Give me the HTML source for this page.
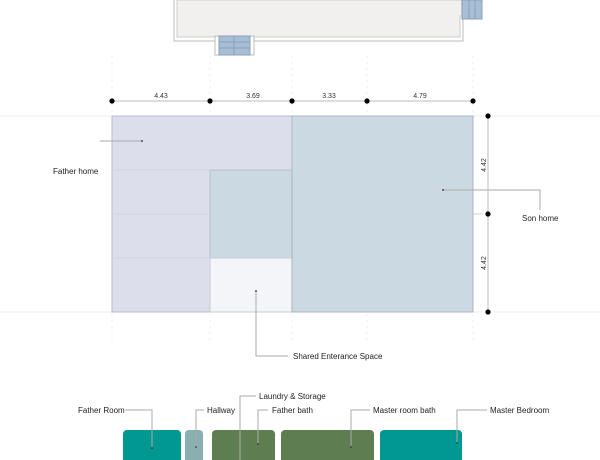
<!DOCTYPE html>
<html><head><style>body{margin:0;background:#fff}svg{display:block;font-family:"Liberation Sans",sans-serif}</style></head><body>
<svg width="600" height="460" viewBox="0 0 600 460" xmlns="http://www.w3.org/2000/svg">
<g stroke="#eee" stroke-width="1" fill="none">
<line x1="0" y1="116" x2="600" y2="116"/><line x1="0" y1="312" x2="600" y2="312"/>
<line x1="112" y1="56" x2="112" y2="340" stroke-dasharray="2 4"/>
<line x1="210" y1="56" x2="210" y2="340" stroke-dasharray="2 4"/>
<line x1="292" y1="56" x2="292" y2="340" stroke-dasharray="2 4"/>
<line x1="367" y1="56" x2="367" y2="340" stroke-dasharray="2 4"/>
<line x1="473" y1="56" x2="473" y2="340" stroke-dasharray="2 4"/>
</g>
<!-- top plan -->
<path d="M174 0 V41 H463 V19 H481 V0" fill="#fff" stroke="#bbb"/>
<path d="M177 0 V37 H460 V16 H478 V0 Z" fill="#f1f0ee" stroke="#ccc"/>
<rect x="462" y="0" width="20" height="19" fill="#a8bed6" stroke="#8a9fb8"/>
<line x1="469" y1="0" x2="469" y2="19" stroke="#8a9fb8"/><line x1="475" y1="0" x2="475" y2="19" stroke="#8a9fb8"/>
<rect x="215" y="36" width="39" height="19" fill="#fff" stroke="#bbb"/>
<rect x="219" y="36" width="31" height="19" fill="#a8bed6" stroke="#8a9fb8"/>
<line x1="219" y1="42" x2="250" y2="42" stroke="#8a9fb8"/><line x1="219" y1="48" x2="250" y2="48" stroke="#8a9fb8"/><line x1="234" y1="36" x2="234" y2="55" stroke="#8a9fb8"/>
<!-- main plan -->
<path d="M112 116 H292 V170 H210 V312 H112 Z" fill="#dcdeec" stroke="#b8bccb"/>
<rect x="210" y="170" width="82" height="88" fill="#cbd9e3" stroke="#b8c0c8"/>
<rect x="210" y="258" width="82" height="54" fill="#f3f5f9" stroke="#c8ccd2"/>
<rect x="292" y="116" width="181" height="196" fill="#cbd9e3" stroke="#aab5c0"/>
<line x1="112" y1="170" x2="210" y2="170" stroke="#d0d3e0"/><line x1="112" y1="214" x2="210" y2="214" stroke="#d0d3e0"/><line x1="112" y1="258" x2="210" y2="258" stroke="#d0d3e0"/>
<line x1="473" y1="214" x2="483" y2="214" stroke="#ccc"/>
<!-- dims -->
<g stroke="#bbb"><line x1="112" y1="101" x2="473" y2="101"/><line x1="488" y1="116" x2="488" y2="312"/></g>
<g fill="#000"><circle cx="112" cy="101" r="2.6"/><circle cx="210" cy="101" r="2.6"/><circle cx="292" cy="101" r="2.6"/><circle cx="367" cy="101" r="2.6"/><circle cx="473" cy="101" r="2.6"/>
<circle cx="488" cy="116" r="2.6"/><circle cx="488" cy="214" r="2.6"/><circle cx="488" cy="312" r="2.6"/></g>
<g font-size="7" fill="#333" text-anchor="middle"><text x="161" y="98">4.43</text><text x="253" y="98">3.69</text><text x="329" y="98">3.33</text><text x="420" y="98">4.79</text>
<text transform="translate(486,165) rotate(-90)">4.42</text><text transform="translate(486,263) rotate(-90)">4.42</text></g>
<!-- leaders -->
<g stroke="#aaa" fill="none"><polyline points="100,141 142,141"/><polyline points="443,190 540,190 540,210"/><polyline points="256,291 256,356 288,356"/></g>
<g fill="#222"><circle cx="142" cy="141" r="0.9"/><circle cx="443" cy="190" r="0.9"/><circle cx="256" cy="291" r="0.9"/></g>
<g font-size="8" fill="#222"><text x="53" y="174">Father home</text><text x="522" y="221">Son home</text><text x="293" y="359">Shared Enterance Space</text></g>
<!-- bottom boxes -->
<rect x="123" y="430" width="58" height="40" rx="4" fill="#009891"/>
<rect x="185" y="430" width="18" height="40" rx="4" fill="#8aafb0"/>
<rect x="212" y="430" width="63" height="40" rx="4" fill="#5e7d50"/>
<rect x="281" y="430" width="93" height="40" rx="4" fill="#5e7d50"/>
<rect x="380" y="430" width="82" height="40" rx="4" fill="#009891"/>
<g stroke="#aaa" fill="none"><polyline points="125,410 152,410 152,448"/><polyline points="204,410 196,410 196,447"/><polyline points="256,396 240,396 240,460"/><polyline points="268,410 258,410 258,444"/><polyline points="370,410 351,410 351,447"/><polyline points="487,410 457,410 457,443"/></g>
<g fill="#222"><circle cx="152" cy="448" r="0.8"/><circle cx="196" cy="447" r="0.8"/><circle cx="258" cy="444" r="0.8"/><circle cx="351" cy="447" r="0.8"/><circle cx="457" cy="443" r="0.8"/></g>
<g font-size="8" fill="#222"><text x="78" y="413">Father Room</text><text x="207" y="413">Hallway</text><text x="259" y="399">Laundry &amp; Storage</text><text x="272" y="413">Father bath</text><text x="373" y="413">Master room bath</text><text x="490" y="413">Master Bedroom</text></g>
</svg>
</body></html>
